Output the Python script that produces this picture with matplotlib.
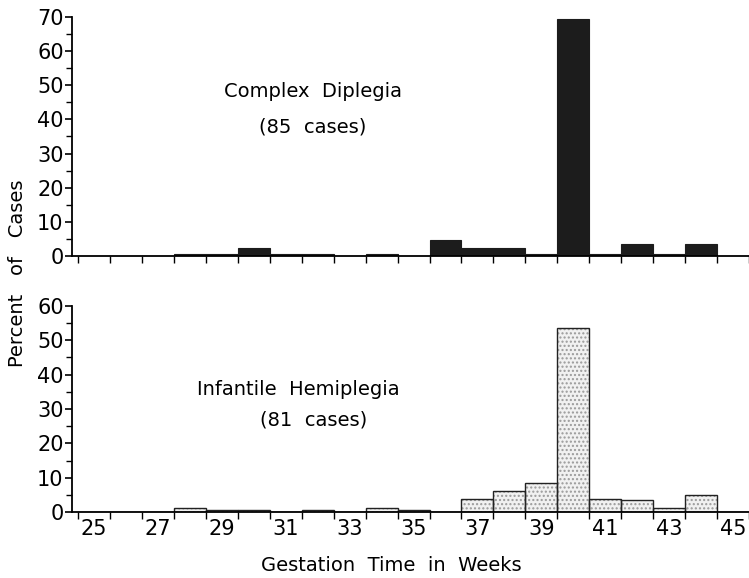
import matplotlib
matplotlib.use("Agg")
import matplotlib.pyplot as plt
import numpy as np

plt.rcParams["font.family"] = ["DejaVu Sans"]

weeks = list(range(25, 46))

# percent of cases per gestation week
diplegia_pct = [0, 0, 0, 0.6, 0.6, 2.3, 0.6, 0.6, 0, 0.6, 0, 4.7,
                2.3, 2.3, 0.6, 69.4, 0.6, 3.5, 0.6, 3.5, 0]
hemiplegia_pct = [0, 0, 0, 1.2, 0.6, 0.6, 0, 0.5, 0, 1.2, 0.5, 0,
                  3.7, 6.2, 8.6, 53.5, 3.7, 3.5, 1.2, 4.9, 0]

label_weeks = [25, 27, 29, 31, 33, 35, 37, 39, 41, 43, 45]
bin_edges = [w - 0.5 for w in weeks] + [weeks[-1] + 0.5]

fig = plt.figure(figsize=(7.49, 5.78), dpi=100)
ax_top = fig.add_axes([0.0961, 0.557, 0.904, 0.414])
ax_bot = fig.add_axes([0.0961, 0.114, 0.904, 0.357])

xlim = (24.31, 45.27)

# top panel: solid black bars
ax_top.bar(weeks, diplegia_pct, width=1.0, color="#1c1c1c",
           edgecolor="#1c1c1c", linewidth=0.8)
ax_top.set_ylim(0, 70)
ax_top.set_yticks(np.arange(0, 71, 10))
ax_top.set_yticks(np.arange(5, 70, 10), minor=True)

# bottom panel: stippled bars
ax_bot.bar(weeks, hemiplegia_pct, width=1.0, color="#f1f1f1",
           edgecolor="#9a9a9a", linewidth=0, hatch="....")
ax_bot.bar(weeks, hemiplegia_pct, width=1.0, fill=False,
           edgecolor="#222222", linewidth=1.0)
ax_bot.set_ylim(0, 60)
ax_bot.set_yticks(np.arange(0, 61, 10))
ax_bot.set_yticks(np.arange(5, 60, 10), minor=True)

for ax in (ax_top, ax_bot):
    ax.set_xlim(*xlim)
    ax.spines["top"].set_visible(False)
    ax.spines["right"].set_visible(False)
    ax.spines["left"].set_linewidth(1.3)
    ax.spines["bottom"].set_linewidth(1.3)
    ax.set_xticks(bin_edges)
    ax.set_xticklabels([])
    ax.tick_params(axis="x", which="major", direction="out", length=5,
                   width=1.0, pad=2)
    ax.tick_params(axis="y", which="major", direction="out", length=5,
                   width=1.2, labelsize=15, pad=1)
    ax.tick_params(axis="y", which="minor", direction="out", length=4,
                   width=1.0)

ax_bot.set_xticks(label_weeks, minor=True)
ax_bot.set_xticklabels([str(w) for w in label_weeks], minor=True)
ax_bot.tick_params(axis="x", which="minor", length=0, labelsize=15, pad=5)

ax_top.text(0.356, 0.686, "Complex  Diplegia", transform=ax_top.transAxes,
            ha="center", va="center", fontsize=14)
ax_top.text(0.356, 0.54, "(85  cases)", transform=ax_top.transAxes,
            ha="center", va="center", fontsize=14)
ax_bot.text(0.334, 0.592, "Infantile  Hemiplegia", transform=ax_bot.transAxes,
            ha="center", va="center", fontsize=14)
ax_bot.text(0.357, 0.447, "(81  cases)", transform=ax_bot.transAxes,
            ha="center", va="center", fontsize=14)

fig.text(0.024, 0.528, "Percent   of   Cases", rotation=90,
         ha="center", va="center", fontsize=14)
fig.text(0.523, 0.022, "Gestation  Time  in  Weeks",
         ha="center", va="center", fontsize=14)

fig.savefig("out.png", dpi=100)
